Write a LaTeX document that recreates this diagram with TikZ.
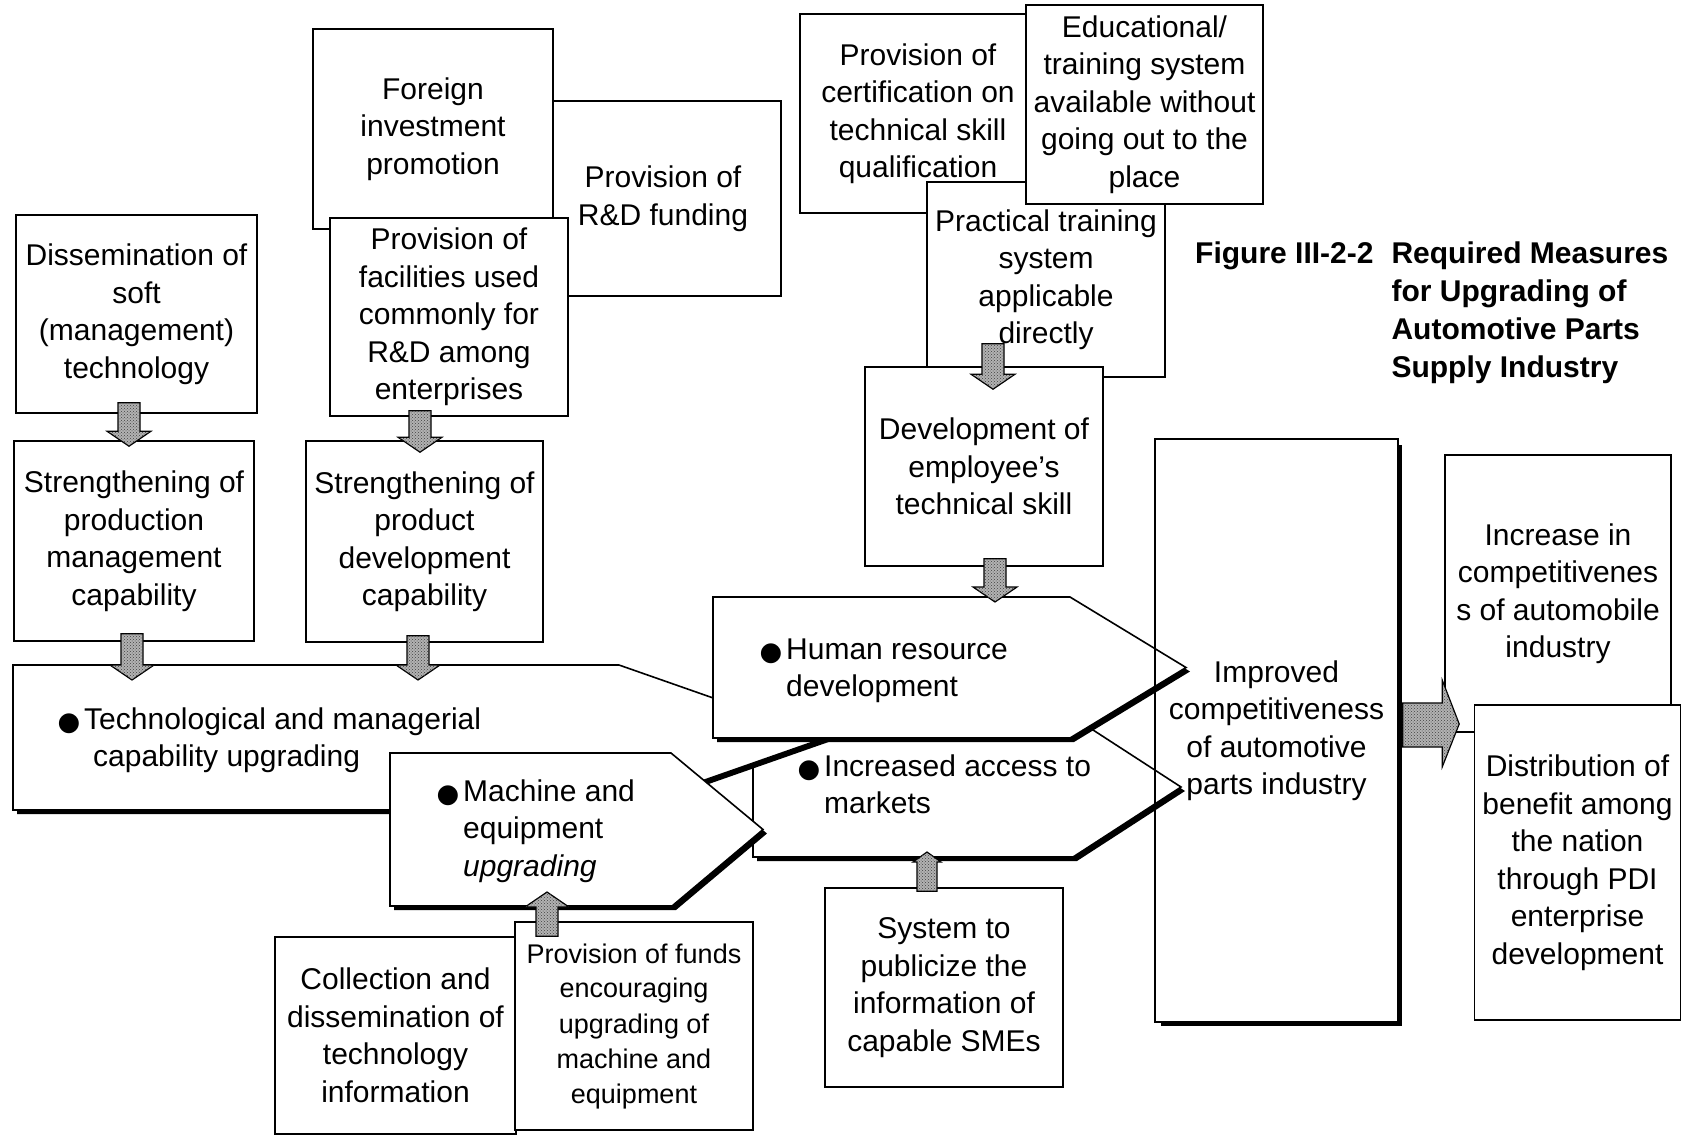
\documentclass[tikz,border=0pt]{standalone}
\usepackage{fontspec}
\setmainfont{Liberation Sans}
\newfontfamily\symfont{DejaVu Sans}
\usetikzlibrary{calc,patterns,shadows}
\newcommand\bodyfont{\fontsize{30}{37.5}\selectfont}
\newcommand\bul{\llap{{\symfont\fontsize{26}{26}\selectfont\raisebox{-1pt}{\char"25CF}}\hspace{4pt}}}
\def\blksw{11pt}\def\blkhw{22pt}\def\blkhl{15pt}
% down block arrow: x, from anchor, start offset (up into source), to anchor, tip offset (down into target)
\newcommand\downblk[5]{%
  \filldraw[blk] let \p1=(#2), \p2=(#4) in
   ({#1pt-\blksw},{\y1+#3pt}) -- ({#1pt+\blksw},{\y1+#3pt}) -- ({#1pt+\blksw},{\y2-#5pt+\blkhl})
   -- ({#1pt+\blkhw},{\y2-#5pt+\blkhl}) -- ({#1pt},{\y2-#5pt}) -- ({#1pt-\blkhw},{\y2-#5pt+\blkhl})
   -- ({#1pt-\blksw},{\y2-#5pt+\blkhl}) -- cycle;}
% up block arrow: x, from anchor (lower box), start offset (down into source), to anchor, tip offset (up into target)
\newcommand\upblk[5]{%
  \filldraw[blk] let \p1=(#2), \p2=(#4) in
   ({#1pt-\blksw},{\y1-#3pt}) -- ({#1pt+\blksw},{\y1-#3pt}) -- ({#1pt+\blksw},{\y2+#5pt-\blkhl})
   -- ({#1pt+\blkhw},{\y2+#5pt-\blkhl}) -- ({#1pt},{\y2+#5pt}) -- ({#1pt-\blkhw},{\y2+#5pt-\blkhl})
   -- ({#1pt-\blksw},{\y2+#5pt-\blkhl}) -- cycle;}
\begin{document}
\begin{tikzpicture}[x=1pt,y=-1pt,
  box/.style={draw, fill=white, line width=1.6pt, inner sep=0pt, align=center, font=\bodyfont,
     execute at begin node={\rule{0pt}{28pt}}},
  pent/.style={draw, fill=white, line width=1.6pt, line join=miter,
     drop shadow={shadow xshift=4pt, shadow yshift=-4pt, fill=black, opacity=1}},
  ptext/.style={anchor=north west, inner sep=0pt, font=\bodyfont},
  blk/.style={draw=black, line width=1.2pt, fill=black!30,
     postaction={pattern=crosshatch dots, pattern color=black!75}}]
\useasboundingbox (0,0) rectangle (1683,1136);

% ---- upper left cluster
\node[box, minimum width=236, minimum height=195] (rnd) at (663,198.5) {Provision of\\R\&D funding};
\node[box, minimum width=240, minimum height=200] (foreign) at (433,129) {Foreign\\investment\\promotion};
\node[box, minimum width=238, minimum height=198] (facil) at (449,317) {Provision of\\facilities used\\commonly for\\R\&D among\\enterprises};
\node[box, minimum width=241, minimum height=198] (diss) at (136.5,314) {Dissemination of\\soft\\(management)\\technology};
\node[box, minimum width=240, minimum height=200] (prodm) at (134,541) {Strengthening of\\production\\management\\capability};
\node[box, minimum width=237, minimum height=201] (prodd) at (424.5,541.5) {Strengthening of\\product\\development\\capability};

% ---- upper middle cluster
\node[box, minimum width=236, minimum height=199] (cert) at (918,113.5) {Provision of\\certification on\\technical skill\\qualification};
\node[box, minimum width=238, minimum height=195] (prac) at (1046,279.5) {Practical training\\system\\applicable\\directly};
\node[box, minimum width=237, minimum height=199] (edu) at (1144.5,104.5) {Educational/\\training system\\available without\\going out to the\\place};
\node[box, minimum width=238, minimum height=199] (dev) at (984,466.5) {Development of\\employee's\\technical skill};

% ---- improved box (fill + shadow first, outline later)
\node[box, draw=none, minimum width=241, minimum height=581,
      drop shadow={shadow xshift=5pt, shadow yshift=-5pt, fill=black, opacity=1}] (improved) at (1276.5,730.5)
      {Improved\\competitiveness\\of automotive\\parts industry};

% ---- pentagons
\path[pent] (753,717) -- (1073,717) -- (1181,787) -- (1073,857) -- (753,857) -- cycle;
\coordinate (inc-bot) at (925,857);
\node[ptext] (inctext) at (824,750) {\begin{tabular}{@{}l@{}}\bul Increased access to\\markets\end{tabular}};

\path[pent] (13,665) -- (619,665) -- (826,737.5) -- (619,810) -- (13,810) -- cycle;
\coordinate (tech-top) at (130,665);
\node[ptext] (techtext) at (84,703) {\begin{tabular}{@{}l@{}}\bul Technological and managerial\\\hspace{9pt}capability upgrading\end{tabular}};

\path[pent] (713,597) -- (1070,597) -- (1186,667.5) -- (1070,738) -- (713,738) -- cycle;
\coordinate (hr-top) at (995,597);
\node[ptext] (hrtext) at (786,633) {\begin{tabular}{@{}l@{}}\bul Human resource\\development\end{tabular}};

\path[pent] (390,753) -- (671,753) -- (763,829.5) -- (672,906) -- (390,906) -- cycle;
\coordinate (mach-bot) at (547,906);
\node[ptext] (machtext) at (463,775) {\begin{tabular}{@{}l@{}}\bul Machine and\\equipment\\\textit{upgrading}\end{tabular}};

\draw[line width=1.6pt] (improved.north west) rectangle (improved.south east);

% ---- right boxes
\node[box, minimum width=226, minimum height=277] (increase) at (1558,593.5) {Increase in\\competitivenes\\s of automobile\\industry};
\node[box, minimum width=206, minimum height=315] (distrib) at (1577.5,862.5) {Distribution of\\benefit among\\the nation\\through PDI\\enterprise\\development};

% ---- bottom boxes
\node[box, minimum width=238, minimum height=199] (system) at (944,987.5) {System to\\publicize the\\information of\\capable SMEs};
\node[box, minimum width=241, minimum height=197] (collect) at (395.5,1035.5) {Collection and\\dissemination of\\technology\\information};
\node[box, minimum width=238, minimum height=208, font=\fontsize{27}{35}\selectfont,
      execute at begin node={\rule{0pt}{24pt}}] (funds) at (634,1026) {Provision of funds\\encouraging\\upgrading of\\machine and\\equipment};

% ---- block arrows
\downblk{129}{diss.south}{11}{prodm.north}{6}
\downblk{132}{prodm.south}{8}{tech-top}{15}
\downblk{420}{facil.south}{6}{prodd.north}{12}
\downblk{418}{prodd.south}{7}{tech-top}{15}
\downblk{993}{prac.south}{34}{dev.north}{23}
\downblk{995}{dev.south}{8}{hr-top}{5}
\upblk{547}{funds.north}{15}{mach-bot}{14}
{\def\blksw{10pt}\def\blkhw{14pt}\def\blkhl{10pt}\upblk{927}{system.north}{4}{inc-bot}{5}}
\filldraw[blk] let \p1=(improved.east), \p2=(increase.west) in
  ({\x1+5pt},-703pt) -- ({\x2-2pt},-703pt) -- ({\x2-2pt},-680pt) -- ({\x2+15pt},-724pt)
  -- ({\x2-2pt},-767pt) -- ({\x2-2pt},-747pt) -- ({\x1+5pt},-747pt) -- cycle;

% ---- title
\node[anchor=north west, inner sep=0pt, font=\bfseries\fontsize{30}{38.3}\selectfont] (title) at (1195,236)
  {\begin{tabular}{@{}l@{\hspace{18pt}}l@{}}Figure III-2-2 & Required Measures\\ & for Upgrading of\\ & Automotive Parts\\ & Supply Industry\end{tabular}};
\end{tikzpicture}
\end{document}
